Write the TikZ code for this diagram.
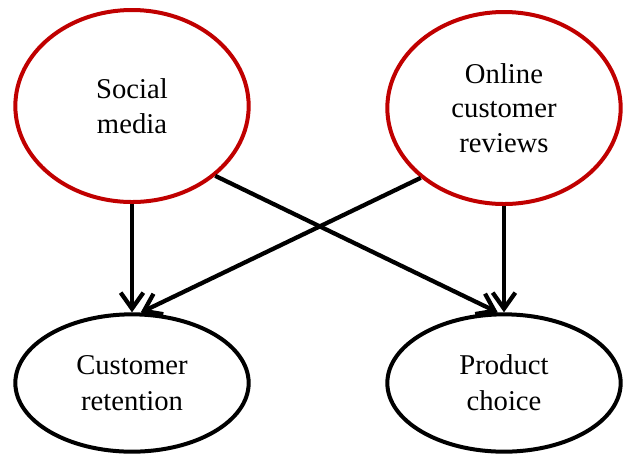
\documentclass[tikz,border=0pt]{standalone}
\usepackage{fontspec}
\setmainfont{Liberation Serif}
\usepackage{tikz}
\usetikzlibrary{
    shapes.geometric,
    arrows.meta,
    positioning
}
\definecolor{factorred}{RGB}{192, 0, 0}
\tikzstyle{arrow} = [
    -{Straight Barb[length=12pt,width=17pt]},
    line width=3.2pt
]

\begin{document}
\begin{tikzpicture}[
    x=0.75pt, y=-0.75pt,
    factor/.style={ellipse, draw=factorred, line width=3pt, inner sep=0pt, minimum width=175pt, minimum height=144pt, align=center, font=\fontsize{21.5}{26}\selectfont},
    outcome/.style={ellipse, draw=black, line width=3pt, inner sep=0pt, minimum width=175pt, minimum height=103pt, align=center, font=\fontsize{21.5}{27}\selectfont}
]
    \useasboundingbox (0,0) rectangle (624,455);

    % Factors
    \node[factor] (social) at (132,106) {Social\\media};
    \node[factor] (reviews) at (504,108) {Online\\customer\\reviews};

    % Outcomes
    \node[outcome] (retention) at (132,383) {Customer\\retention};
    \node[outcome] (product) at (504,383) {Product\\choice};

    % Arrows
    \draw[arrow] (social) -- (retention);
    \draw[arrow] (reviews) -- (product);
    \draw[arrow] (social.-40) -- (product.95);
    \draw[arrow] (reviews.220) -- (retention.83);

\end{tikzpicture}
\end{document}
